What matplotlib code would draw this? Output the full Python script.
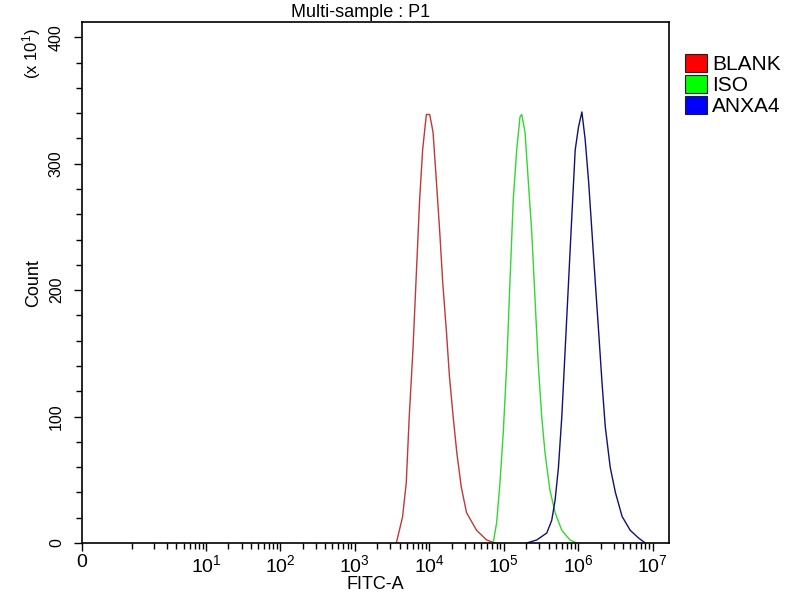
import matplotlib
matplotlib.use('Agg')
import matplotlib.pyplot as plt
from matplotlib.patches import Patch
import numpy as np

plt.rcParams['font.family'] = ['Liberation Sans', 'DejaVu Sans']
plt.rcParams['mathtext.fontset'] = 'custom'
plt.rcParams['mathtext.rm'] = 'Liberation Sans'
plt.rcParams['mathtext.it'] = 'Liberation Sans'

# histogram outlines (x as log10 of FITC-A, y in counts x10)
blank_log = [3.557, 3.64, 3.69, 3.73, 3.78, 3.83, 3.87, 3.91, 3.96, 4.005, 4.05, 4.095,
             4.14, 4.18, 4.23, 4.27, 4.32, 4.37, 4.43, 4.50, 4.635, 4.77, 4.88]
blank_cnt = [0, 20.6, 47.6, 100, 153, 219, 272, 311, 339, 339, 325, 286,
             246, 206, 167, 132, 100, 71, 44, 24, 10, 2.4, 0]

iso_log = [4.858, 4.904, 4.949, 4.993, 5.039, 5.083, 5.128, 5.174, 5.218, 5.241, 5.286,
           5.33, 5.376, 5.42, 5.465, 5.51, 5.555, 5.62, 5.69, 5.78, 5.89, 5.98]
iso_cnt = [0, 15.9, 47.6, 87, 140, 206, 272, 311, 337, 339, 325,
           286, 246, 193, 140, 100, 71, 42, 24, 10, 2.4, 0]

anxa4_log = [5.309, 5.443, 5.578, 5.645, 5.69, 5.735, 5.78, 5.825, 5.87, 5.915, 5.96,
             6.004, 6.05, 6.094, 6.14, 6.185, 6.23, 6.275, 6.32, 6.364, 6.43, 6.5,
             6.59, 6.7, 6.81, 6.9]
anxa4_cnt = [0, 2.4, 7.9, 18, 34, 60, 100, 153, 206, 259, 311,
             329, 341, 319, 286, 246, 206, 167, 127, 92, 60, 40,
             21, 10, 4, 0]

labels = ['BLANK', 'ISO', 'ANXA4']
line_colors = ['#c03838', '#30d830', '#10107a']
box_colors = ['#ff0000', '#00ff00', '#0000ff']

fig = plt.figure(figsize=(8, 6), dpi=100)
ax = fig.add_axes([0.1025, 0.095, 0.7335, 0.868])

series = [(blank_log, blank_cnt), (iso_log, iso_cnt), (anxa4_log, anxa4_cnt)]
for (lx, cnt), c in zip(series, line_colors):
    ax.plot(10 ** np.array(lx), cnt, color=c, lw=1.0)

ax.set_xscale('symlog', linthresh=1, linscale=0.60)
ax.set_xlim(0, 1.65e7)
ax.set_ylim(0, 412)

ax.set_xticks([0] + [10 ** k for k in range(1, 8)])
ax.set_xticklabels(['0'] + ['$10^{%d}$' % k for k in range(1, 8)])
minor = [1] + [m * 10 ** k for k in range(0, 7) for m in range(2, 10)]
ax.set_xticks(minor, minor=True)
ax.set_yticks([0, 100, 200, 300, 400])
ax.set_yticks(np.arange(0, 412, 20), minor=True)
for lab in ax.get_yticklabels():
    lab.set_rotation(90)
    lab.set_va('center')

ax.tick_params(which='major', direction='out', length=6, width=1)
ax.tick_params(which='minor', direction='out', length=4, width=1)
ax.tick_params(axis='x', labelsize=14, pad=2)
ax.tick_params(axis='y', labelsize=11.5, pad=7)
for s in ax.spines.values():
    s.set_linewidth(1.2)

ax.set_xlabel('FITC-A', fontsize=13, labelpad=0)
ax.set_ylabel('Count', fontsize=13, labelpad=5)
fig.text(0.451, 0.972, 'Multi-sample : P1', fontsize=13, ha='center', va='baseline')
fig.text(0.04, 0.91, '(x 10$^{1}$)', rotation=90, fontsize=12, ha='center', va='center')

handles = [Patch(facecolor=b, edgecolor='#202020', lw=0.8) for b in box_colors]
ax.legend(handles, labels, loc='upper left', bbox_to_anchor=(1.013, 0.955),
          frameon=False, fontsize=15, handlelength=1.05, handleheight=0.95,
          handletextpad=0.25, labelspacing=0.05, borderaxespad=0)

fig.savefig('out.png', dpi=100)
